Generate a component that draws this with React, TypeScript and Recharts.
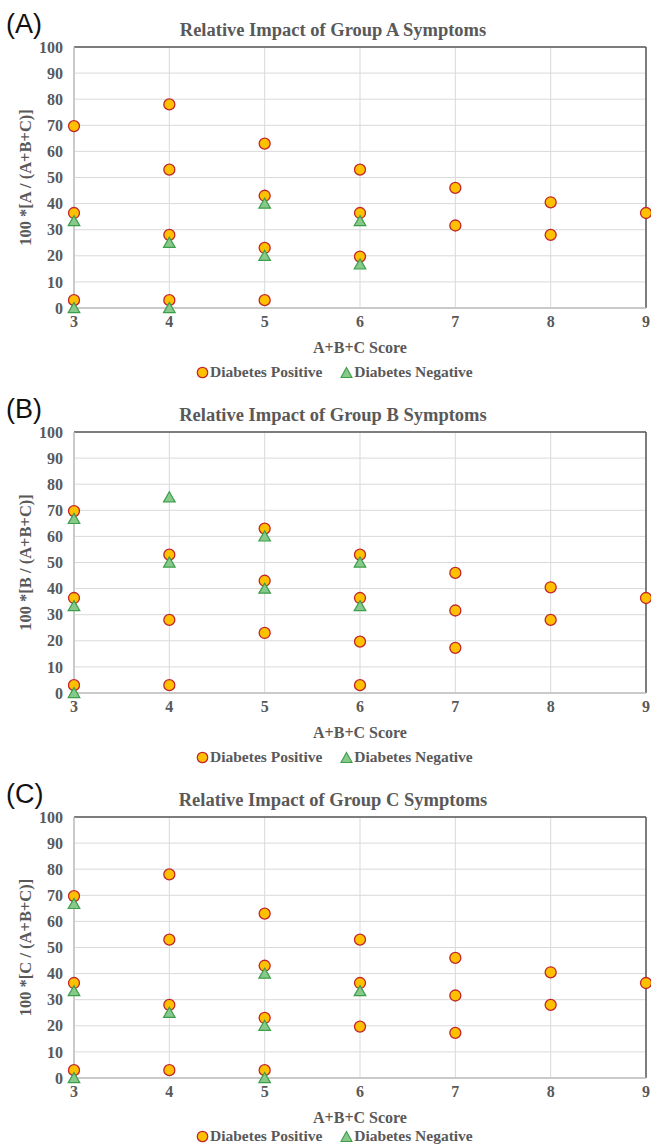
import React from "react";
import { ScatterChart, Scatter, XAxis, YAxis, CartesianGrid, ReferenceLine } from "recharts";

type Pt = { x: number; y: number };

const at = (x: number, ys: number[]): Pt[] => ys.map((y) => ({ x, y }));

const SCORE_TICKS = [3, 4, 5, 6, 7, 8, 9];
const PCT_TICKS = [0, 10, 20, 30, 40, 50, 60, 70, 80, 90, 100];

// Group A
const groupAPositive: Pt[] = [
  ...at(3, [69.7, 36.4, 3]),
  ...at(4, [78, 53, 28, 3]),
  ...at(5, [63, 43, 23, 3]),
  ...at(6, [53, 36.4, 19.7]),
  ...at(7, [46, 31.6]),
  ...at(8, [40.5, 28]),
  ...at(9, [36.4]),
];
const groupANegative: Pt[] = [
  ...at(3, [33.3, 0]),
  ...at(4, [25, 0]),
  ...at(5, [40, 20]),
  ...at(6, [33.3, 16.7]),
];

// Group B
const groupBPositive: Pt[] = [
  ...at(3, [69.7, 36.4, 3]),
  ...at(4, [53, 28, 3]),
  ...at(5, [63, 43, 23]),
  ...at(6, [53, 36.4, 19.7, 3]),
  ...at(7, [46, 31.6, 17.3]),
  ...at(8, [40.5, 28]),
  ...at(9, [36.4]),
];
const groupBNegative: Pt[] = [
  ...at(3, [66.7, 33.3, 0]),
  ...at(4, [75, 50]),
  ...at(5, [60, 40]),
  ...at(6, [50, 33.3]),
];

// Group C
const groupCPositive: Pt[] = [
  ...at(3, [69.7, 36.4, 3]),
  ...at(4, [78, 53, 28, 3]),
  ...at(5, [63, 43, 23, 3]),
  ...at(6, [53, 36.4, 19.7]),
  ...at(7, [46, 31.6, 17.3]),
  ...at(8, [40.5, 28]),
  ...at(9, [36.4]),
];
const groupCNegative: Pt[] = [
  ...at(3, [66.7, 33.3, 0]),
  ...at(4, [25]),
  ...at(5, [40, 20, 0]),
  ...at(6, [33.3]),
];

const SERIF = '"Liberation Serif", "Times New Roman", serif';
const GRAY = "#595959";
const POS_FILL = "#FFC000";
const POS_STROKE = "#C0262B";
const NEG_FILL = "#86C98A";
const NEG_STROKE = "#3D9E4A";

const tickStyle = { fill: GRAY, fontSize: 16, fontWeight: "bold", fontFamily: SERIF };

const CircleMark = (p: any) => (
  <circle cx={p.cx} cy={p.cy} r={5.5} fill={POS_FILL} stroke={POS_STROKE} strokeWidth={1.3} />
);

const TriangleMark = (p: any) => {
  const { cx, cy } = p;
  return (
    <polygon
      points={`${cx},${cy - 5.5} ${cx + 5.8},${cy + 4.6} ${cx - 5.8},${cy + 4.6}`}
      fill={NEG_FILL}
      stroke={NEG_STROKE}
      strokeWidth={1.2}
    />
  );
};

const XTitle = (p: any) => {
  const { x, y, width } = p.viewBox;
  return (
    <text x={x + width / 2} y={y + 45} textAnchor="middle" fill={GRAY} fontSize={16} fontWeight="bold" fontFamily={SERIF}>
      A+B+C Score
    </text>
  );
};

const makeYTitle = (text: string) => (p: any) => {
  const { y, height } = p.viewBox;
  const cx = 25;
  const cy = y + height / 2;
  return (
    <text
      x={cx}
      y={cy}
      dy="0.35em"
      textAnchor="middle"
      transform={`rotate(-90, ${cx}, ${cy})`}
      fill={GRAY}
      fontSize={16.5}
      fontWeight="bold"
      fontFamily={SERIF}
    >
      {text}
    </text>
  );
};

function Legend() {
  return (
    <div
      style={{
        position: "absolute",
        left: 196,
        display: "flex",
        alignItems: "center",
        fontFamily: SERIF,
        fontWeight: "bold",
        fontSize: 15.5,
        color: GRAY,
        lineHeight: "18px",
        whiteSpace: "nowrap",
      }}
    >
      <svg width={13} height={13} style={{ marginRight: 1 }}>
        <circle cx={6.5} cy={6.5} r={5.2} fill={POS_FILL} stroke={POS_STROKE} strokeWidth={1.3} />
      </svg>
      <span>Diabetes Positive</span>
      <svg width={13} height={13} style={{ marginLeft: 18, marginRight: 1 }}>
        <polygon points="6.5,1.5 12,11.5 1,11.5" fill={NEG_FILL} stroke={NEG_STROKE} strokeWidth={1.1} />
      </svg>
      <span>Diabetes Negative</span>
    </div>
  );
}

interface PanelProps {
  letter: string;
  title: string;
  yLabel: string;
  positive: Pt[];
  negative: Pt[];
  height: number;
  legendTop: number;
}

function Panel({ letter, title, yLabel, positive, negative, height, legendTop }: PanelProps) {
  return (
    <div style={{ position: "relative", width: 651, height }}>
      <div style={{ position: "absolute", left: 6, top: 9, fontFamily: '"Liberation Sans", Arial, sans-serif', fontSize: 27, lineHeight: "30px", color: "#111" }}>
        ({letter})
      </div>
      <div
        style={{
          position: "absolute",
          left: 0,
          top: 19,
          width: 666,
          textAlign: "center",
          fontFamily: SERIF,
          fontWeight: "bold",
          fontSize: 18.5,
          lineHeight: "22px",
          color: GRAY,
        }}
      >
        {title}
      </div>
      <ScatterChart width={651} height={height} margin={{ top: 47, right: 5, bottom: height - 338, left: 0 }}>
        <CartesianGrid stroke="#d9d9d9" strokeWidth={1} />
        <XAxis
          type="number"
          dataKey="x"
          domain={[3, 9]}
          ticks={SCORE_TICKS}
          height={30}
          axisLine={{ stroke: "#bfbfbf", strokeWidth: 1.5 }}
          tickLine={false}
          tickSize={0}
          tickMargin={8}
          tick={tickStyle}
          label={XTitle}
        />
        <YAxis
          type="number"
          dataKey="y"
          domain={[0, 100]}
          ticks={PCT_TICKS}
          width={74}
          axisLine={{ stroke: "#bfbfbf", strokeWidth: 1.5 }}
          tickLine={false}
          tickSize={0}
          tickMargin={11}
          tick={tickStyle}
          label={makeYTitle(yLabel)}
        />
        <ReferenceLine y={100} stroke={GRAY} strokeWidth={1.5} />
        <ReferenceLine x={9} stroke={GRAY} strokeWidth={1.5} />
        <Scatter name="Diabetes Positive" data={positive} shape={CircleMark} isAnimationActive={false} />
        <Scatter name="Diabetes Negative" data={negative} shape={TriangleMark} isAnimationActive={false} />
      </ScatterChart>
      <div style={{ position: "absolute", top: legendTop, left: 0 }}>
        <Legend />
      </div>
    </div>
  );
}

export default function App() {
  return (
    <div style={{ position: "absolute", left: 0, top: 0, width: 651, height: 1147, overflow: "hidden", background: "#fff" }}>
      <Panel letter="A" title="Relative Impact of Group A Symptoms" yLabel="100 *[A / (A+B+C)]" positive={groupAPositive} negative={groupANegative} height={385} legendTop={363} />
      <Panel letter="B" title="Relative Impact of Group B Symptoms" yLabel="100 *[B / (A+B+C)]" positive={groupBPositive} negative={groupBNegative} height={385} legendTop={363} />
      <Panel letter="C" title="Relative Impact of Group C Symptoms" yLabel="100 *[C / (A+B+C)]" positive={groupCPositive} negative={groupCNegative} height={377} legendTop={357} />
    </div>
  );
}
